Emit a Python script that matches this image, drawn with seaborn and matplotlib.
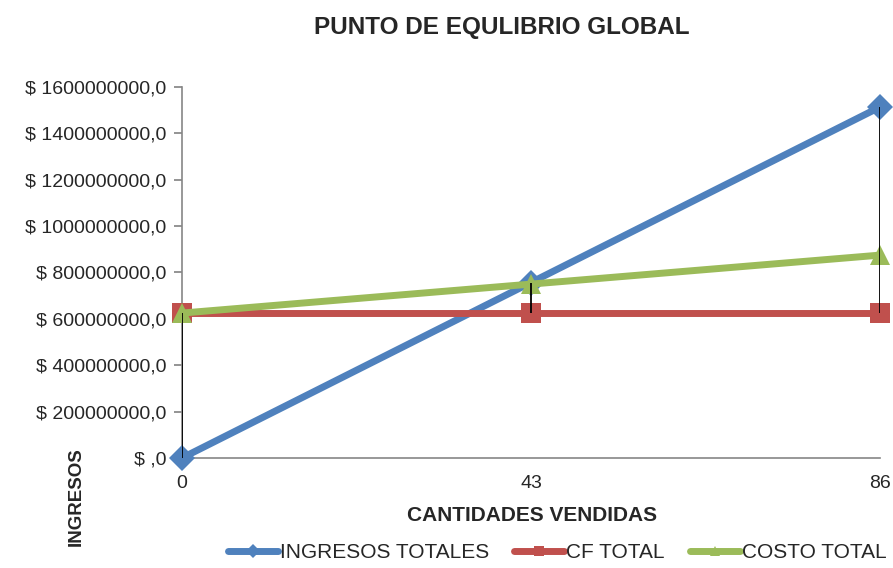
import matplotlib
matplotlib.use("Agg")
import matplotlib.pyplot as plt
import matplotlib.ticker as mticker
import numpy as np
import pandas as pd
import seaborn as sns

# Chart data
cantidades = [0, 43, 86]
ingresos_totales = [0, 756.8e6, 1513.6e6]
cf_total = [625e6, 625e6, 625e6]
costo_total = [625e6, 750e6, 875e6]

series_names = ["INGRESOS TOTALES", "CF TOTAL", "COSTO TOTAL"]
series_colors = ["#4F81BD", "#C0504D", "#9BBB59"]
series_markers = ["D", "s", "^"]
series_sizes = [13, 15, 15]

df = pd.DataFrame({
    "cantidad": cantidades * 3,
    "valor": ingresos_totales + cf_total + costo_total,
    "serie": sum([[n] * len(cantidades) for n in series_names], []),
})

sns.set_theme(style="white")
plt.rcParams["font.family"] = ["Liberation Sans Narrow", "Liberation Sans", "DejaVu Sans"]
text_color = "#262626"

fig = plt.figure(figsize=(8.93, 5.68), dpi=100)
ax = fig.add_axes([0.2038, 0.1937, 0.7816, 0.6531])

# Vertical high-low lines joining the series at each quantity
stack = np.array([ingresos_totales, cf_total, costo_total])
ax.vlines(cantidades, stack.min(axis=0), stack.max(axis=0), color="black",
          linewidth=1.3, zorder=5)

for name, color, mk, ms in zip(series_names, series_colors, series_markers, series_sizes):
    sub = df[df["serie"] == name]
    sns.lineplot(data=sub, x="cantidad", y="valor", ax=ax, color=color,
                 linewidth=5, marker=mk, markersize=ms, markeredgewidth=0,
                 label=name, clip_on=False, zorder=3, legend=False)

ax.set_xlim(0, 86)
ax.set_ylim(0, 1.6e9)
ax.set_xticks(cantidades)
ax.set_xticklabels([str(c) for c in cantidades])
ax.yaxis.set_major_locator(mticker.MultipleLocator(2e8))


def money(v, pos):
    if v == 0:
        return "$ ,0"
    return f"$ {v:.1f}".replace(".", ",")


ax.yaxis.set_major_formatter(mticker.FuncFormatter(money))

for side in ["top", "right"]:
    ax.spines[side].set_visible(False)
for side in ["left", "bottom"]:
    ax.spines[side].set_color("#868686")
    ax.spines[side].set_linewidth(1.2)
ax.tick_params(axis="y", which="major", left=True, length=6, color="#868686",
               labelsize=14, labelcolor=text_color, pad=5)
ax.tick_params(axis="x", which="major", bottom=False, labelsize=14,
               labelcolor=text_color, pad=6)

ax.set_xlabel("")
ax.set_ylabel("")
fig.text(0.596, 0.092, "CANTIDADES VENDIDAS", ha="center", va="center",
         fontsize=15, fontweight="bold", color=text_color)
fig.text(0.085, 0.125, "INGRESOS", ha="center", va="center", rotation=90,
         fontsize=13.5, fontweight="bold", color=text_color)
fig.text(0.562, 0.952, "PUNTO DE EQULIBRIO GLOBAL", ha="center", va="center",
         fontsize=17.5, fontweight="bold", color=text_color)

handles = [plt.Line2D([0], [0], color=c, linewidth=5, marker=m, markersize=7,
                      markeredgewidth=0)
           for c, m in zip(series_colors, series_markers)]
fig.legend(handles, series_names, loc="center", bbox_to_anchor=(0.624, 0.027),
           ncol=3, frameon=False, fontsize=15, handlelength=2.4,
           handletextpad=0.1, columnspacing=1.2, labelcolor=text_color)

fig.savefig("out.png", dpi=100)
